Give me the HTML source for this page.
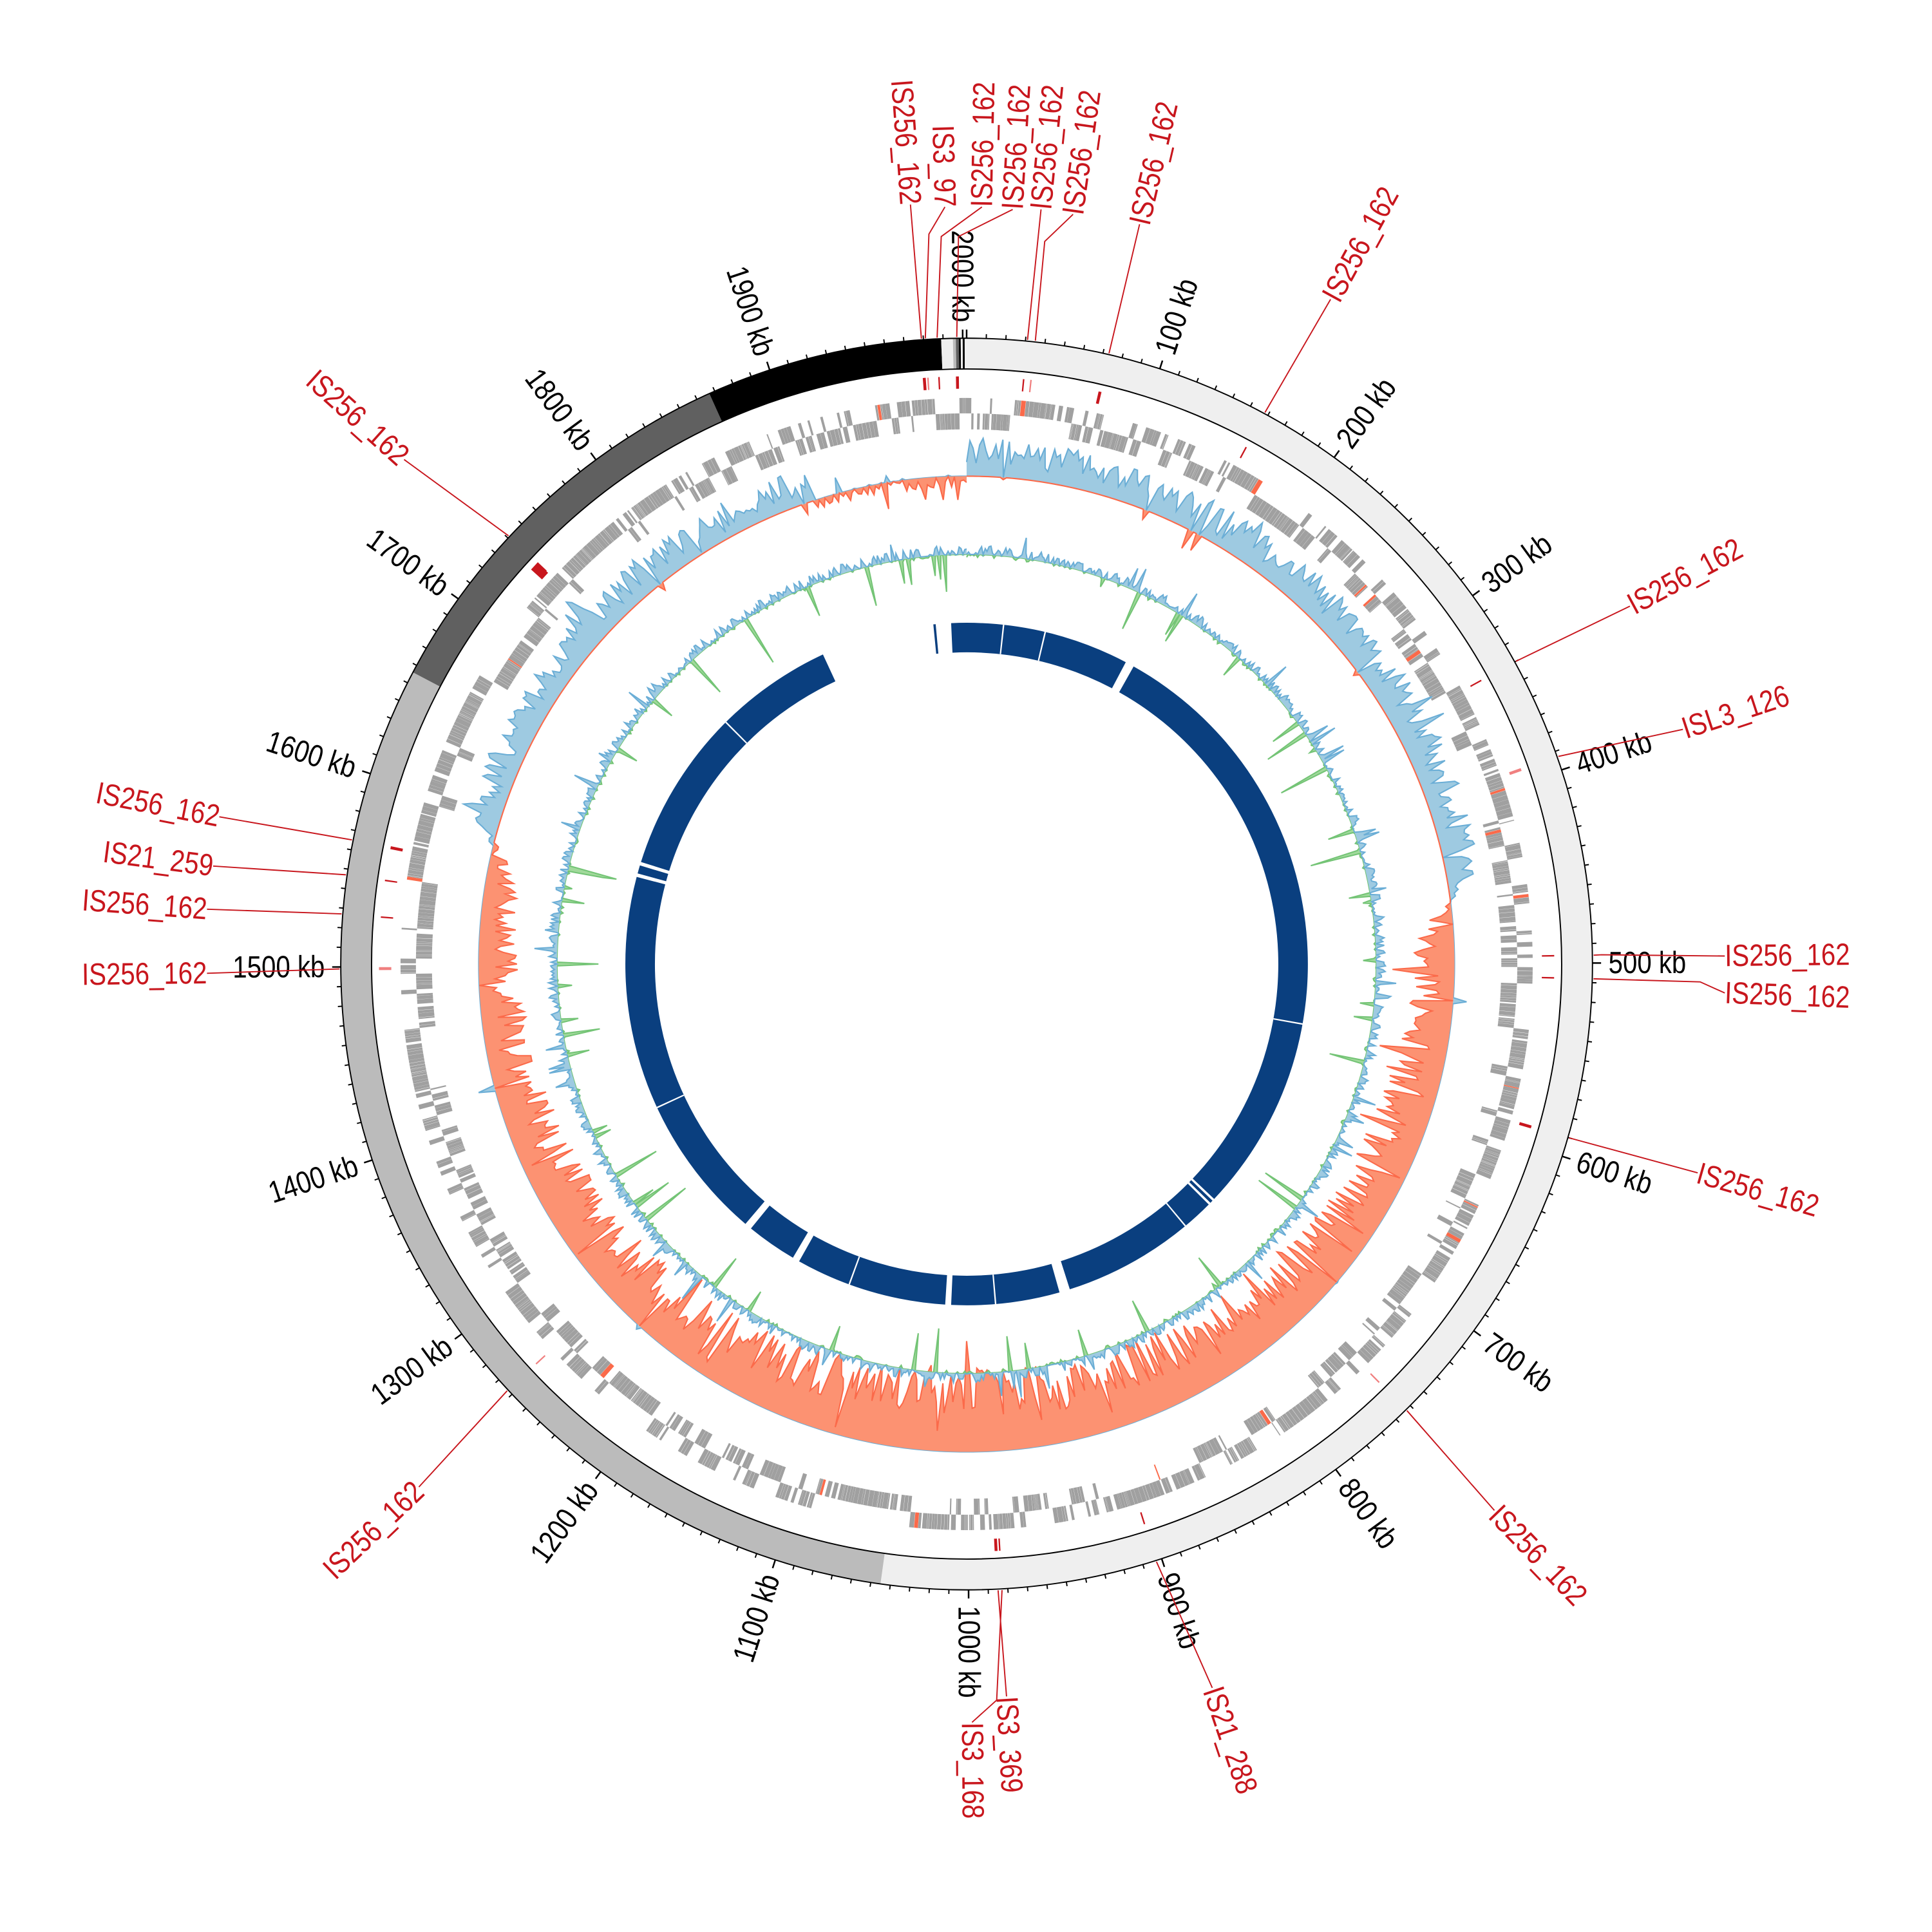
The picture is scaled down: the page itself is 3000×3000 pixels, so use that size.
<!DOCTYPE html>
<html><head><meta charset="utf-8">
<style>
html,body{margin:0;padding:0;background:#fff;}
svg{display:block;}
text{font-family:"Liberation Sans Narrow","Liberation Sans",sans-serif;}
</style></head>
<body>
<svg id="s" xmlns="http://www.w3.org/2000/svg" width="3000" height="3000" viewBox="0 0 1568.2 1568.2">
<rect width="1568.2" height="1568.2" fill="#fff"/>
</svg>
<script>
(function(){
var svg=document.getElementById('s');
var cx=784.6, cy=782.5, T=2002;
function A(kb){return kb/T*360;}
function pt(r,a){var t=a*Math.PI/180;return [cx+r*Math.sin(t), cy-r*Math.cos(t)];}
function f(n){return n.toFixed(2);}
var out=[];
function ann(r1,r2,a1,a2,fill,extra){
  var p1=pt(r2,a1),p2=pt(r2,a2),p3=pt(r1,a2),p4=pt(r1,a1);
  var lg=(a2-a1)>180?1:0;
  out.push('<path d="M'+f(p1[0])+','+f(p1[1])+'A'+r2+','+r2+' 0 '+lg+' 1 '+f(p2[0])+','+f(p2[1])+'L'+f(p3[0])+','+f(p3[1])+'A'+r1+','+r1+' 0 '+lg+' 0 '+f(p4[0])+','+f(p4[1])+'Z" fill="'+fill+'" '+(extra||'')+'/>');
}
var seed=12345;
function rnd(){seed|=0;seed=seed+0x6D2B79F5|0;var t=Math.imul(seed^seed>>>15,1|seed);t=t+Math.imul(t^t>>>7,61|t)^t;return((t^t>>>14)>>>0)/4294967296;}
function txt(s,x,y,rot,anc,col){
  out.push('<text x="0" y="0" font-size="25" fill="'+col+'" text-anchor="'+anc+'" dominant-baseline="central" transform="translate('+f(x)+' '+f(y)+') rotate('+f(rot)+') scale(0.84 1)">'+s+'</text>');
}

/* outer contig ring */
var segs=[[0,1045,'#efefef'],[1045,1656,'#bbbbbb'],[1656,1867,'#606060'],[1867,1989,'#000000'],[1989,1995,'#efefef'],[1995,1996.5,'#bbbbbb'],[1996.5,1998,'#606060'],[1998,1999,'#000'],[1999,2000,'#efefef'],[2000,2001,'#000'],[2001,2002,'#efefef']];
segs.forEach(function(s){ann(483,508,A(s[0]),A(s[1]),s[2]);});
out.push('<circle cx="'+cx+'" cy="'+cy+'" r="508" fill="none" stroke="#000" stroke-width="1"/>');
out.push('<circle cx="'+cx+'" cy="'+cy+'" r="483" fill="none" stroke="#000" stroke-width="1"/>');
/* ticks */
for(var k=0;k<=2000;k+=10){
  var a=A(k),maj=(k%100==0);
  var p1=pt(508,a),p2=pt(maj?515:511.5,a);
  out.push('<line x1="'+f(p1[0])+'" y1="'+f(p1[1])+'" x2="'+f(p2[0])+'" y2="'+f(p2[1])+'" stroke="#000" stroke-width="'+(maj?1.3:1)+'"/>');
  if(maj&&k>0){
    var p=pt(521,a);
    if(a<180) txt(k+' kb',p[0],p[1],a-90,'start','#000');
    else txt(k+' kb',p[0],p[1],a+90,'end','#000');
  }
}
/* genes */
var kb=0,strand=0;
while(kb<T){
  var len=0.5+rnd()*2.2;
  if(rnd()<0.2) strand=1-strand;
  var col=rnd()<0.015?'#fb6a4a':'#a0a0a0';
  if(strand==0) ann(447,459.5,A(kb),A(Math.min(kb+len,T)),col);
  else ann(434,447,A(kb),A(Math.min(kb+len,T)),col);
  kb+=len+(rnd()<0.93?0.04+rnd()*0.12:0.5+rnd()*2.0);
}
/* GC skew */
function mean(k){
  if(k<440)return 20;
  if(k<480)return 20-(k-440)/40*42;
  if(k<1000)return -(22+28*(k-480)/520);
  if(k<1560)return -(50-32*(k-1000)/560);
  if(k<1600)return -18+(k-1560)/40*36;
  if(k<1900)return 18;
  return -4;
}
var base=396,N=1000,vals=[];
for(var i=0;i<=N;i++){
  var k=i*T/N,m=mean(k);
  var v=m+(rnd()-0.5)*(Math.abs(m)*0.7+8);
  if(rnd()<0.05) v+= (m>0?-1:1)*(12+rnd()*15);
  if(rnd()<0.04) v+= (m>0?1:-1)*(8+rnd()*14);
  vals.push(v);
}
function trackPath(b,vs,sign,fill,stroke){
  var d='';
  for(var i=0;i<vs.length;i++){
    var v=sign>0?Math.max(vs[i],0):Math.min(vs[i],0);
    var p=pt(b+v,i*360/(vs.length-1));
    d+=(i?'L':'M')+f(p[0])+','+f(p[1]);
  }
  var full=d;
  for(var i=vs.length-1;i>=0;i--){var p=pt(b,i*360/(vs.length-1));full+='L'+f(p[0])+','+f(p[1]);}
  out.push('<path d="'+full+'Z" fill="'+fill+'" stroke="none"/>');
  out.push('<path d="'+d+'" fill="none" stroke="'+stroke+'" stroke-width="1.1"/>');
}
trackPath(base,vals,1,'#9ecae1','#6baed6');
trackPath(base,vals,-1,'#fc9272','#fb6a4a');
/* GC content */
var gv=[];
for(var i=0;i<=1400;i++){
  var v=2+(rnd()-0.45)*10;
  if(rnd()<0.035) v-=10+rnd()*35;
  if(rnd()<0.04) v+=6+rnd()*12;
  gv.push(v);
}
var gb=332.5;
trackPath(gb,gv,-1,'#a1d99b','#74c476');
trackPath(gb,gv,1,'#9ecae1','#6baed6');
/* inner blue ring */
var bl='#0a3f7f';
var blocks=[[-2.6,27.8],[29.3,133.5],[133.9,134.4],[134.8,162.4],[164.2,182.6],[183.6,209.4],[210.6,219.2],[220.4,284.8],[285.4,286.8],[287.4,335.1]];
blocks.forEach(function(b){ann(253,277,b[0],b[1],bl);});
ann(253,277,-5.6,-5.2,bl);
[6.1,13.2,245,315,100,140,175,200].forEach(function(a){ann(253,277,a,a+0.25,'#fff');});
/* IS marks */
var red='#c8161d';
var isk=[1979,1981,1987,1997,31,35,73,158,340,393,496,508,590,753,903,985,983,1263,1565,1547,1527,1499,1741];
isk.forEach(function(k,i){var w=(i%3==0)?1.6:0.8;ann(467,477,A(k-w/2),A(k+w/2),(i%4==1)?'#f08080':red);});
ann(465,477,A(1736),A(1741),red);
/* labels */
var L=[
['IS256_162',1979,[],[739,166]],
['IS3_97',1981,[[754,190]],[767,168]],
['IS256_162',1987,[[764,192]],[797,168]],
['IS256_162',1997,[[778,192]],[822,170]],
['IS256_162',31,[],[845,170]],
['IS256_162',35,[[848,196]],[871,174]],
['IS256_162',73,[],[925,182]],
['IS256_162',158,[],[1080,243]],
['IS256_162',340,[],[1323,492]],
['ISL3_126',393,[],[1366,592]],
['IS256_162',496,[[1300,775]],[1400,776]],
['IS256_162',508,[[1380,797]],[1400,806]],
['IS256_162',590,[],[1378,952]],
['IS256_162',753,[],[1213,1226]],
['IS21_288',903,[],[984,1370]],
['IS3_369',985,[],[817,1377]],
['IS3_168',983,[[809,1380]],[789,1398]],
['IS256_162',1263,[],[340,1207]],
['IS256_162',1565,[],[178,663]],
['IS21_259',1547,[],[173,703]],
['IS256_162',1527,[],[168,738]],
['IS256_162',1499,[],[168,790]],
['IS256_162',1741,[],[328,373]]
];
L.forEach(function(l){
  var a=A(l[1]),p=pt(509,a),d='M'+f(p[0])+','+f(p[1]);
  l[2].forEach(function(q){d+='L'+q[0]+','+q[1];});
  d+='L'+l[3][0]+','+l[3][1];
  out.push('<path d="'+d+'" fill="none" stroke="'+red+'" stroke-width="1"/>');
  var x=l[3][0],y=l[3][1];
  var la=Math.atan2(x-cx,-(y-cy))*180/Math.PI; if(la<0)la+=360;
  if(la<180) txt(l[0],x,y,la-90,'start',red);
  else txt(l[0],x,y,la+90,'end',red);
});
svg.insertAdjacentHTML('beforeend',out.join(''));
})();
</script>
</body></html>
